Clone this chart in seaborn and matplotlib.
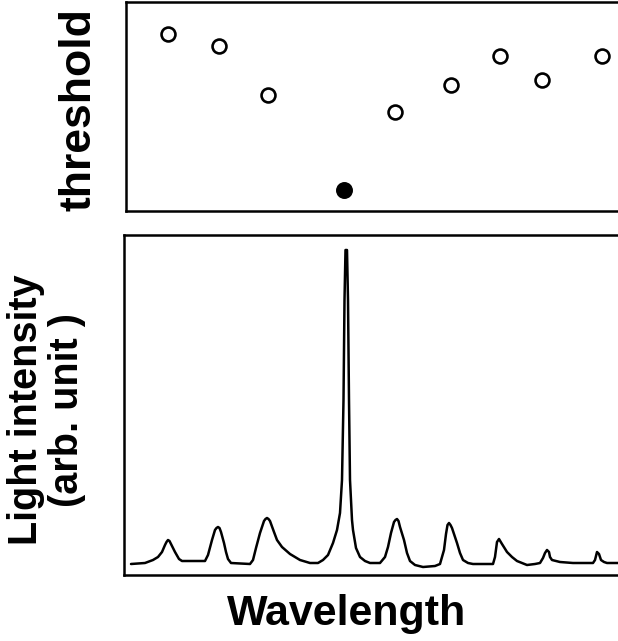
import numpy as np
import pandas as pd
import matplotlib
matplotlib.use("Agg")
import matplotlib.pyplot as plt
import seaborn as sns

# threshold per peak wavelength (arb. units)
thr_wavelength = [168, 219, 268, 344, 395, 451, 500, 542, 602]
thr_value = [177, 165, 116, 21, 99, 126, 155, 131, 155]
thr_filled = [False, False, False, True, False, False, False, False, False]

# traced emission spectrum (arb. units)
spec_wavelength = [
    131, 145, 153, 158, 162, 165, 166.5, 168, 169.5, 171, 175, 179, 182,
    205, 208, 212, 215, 216.5, 218, 219.5, 221, 224, 226, 228, 231,
    250, 253, 256, 260, 264, 265.5, 267, 268.5, 270, 274, 277,
    282, 290, 300, 310, 318, 323, 328, 333, 337, 340, 342, 343.5, 344.5, 345.5,
    347, 348, 349, 350, 352, 353, 356, 360, 365, 370, 380, 385, 388, 391, 394,
    395.5, 397, 398.5, 400, 404, 407, 410, 415, 423, 435, 440, 444, 446,
    447.5, 449, 450.5, 452, 457, 460,
    463, 468, 473, 493, 495, 497, 499, 502, 507, 512, 517, 527, 535, 540, 543,
    545, 547, 549, 550, 552, 560, 573, 593, 595, 597, 599, 601, 604, 607, 640,
]
spec_intensity = [
    11, 12, 15, 18, 23, 30, 33, 35, 34, 31, 23, 16, 14,
    14, 20, 35, 45, 47, 48, 47, 43, 32, 23, 16, 12,
    11, 15, 27, 42, 54, 56, 57, 56, 54, 43, 35,
    28, 21, 15, 12, 12, 15, 20, 32, 45, 62, 95, 175, 275, 325,
    325, 275, 175, 95, 55, 45, 27, 18, 14, 12, 12, 18, 28, 42, 53,
    55, 56, 54, 48, 35, 22, 14, 10, 8, 9, 11, 25, 41,
    50, 52, 50, 47, 32, 22,
    15, 12, 11, 11, 18, 33, 36, 31, 23, 18, 14, 10, 11, 12, 17,
    22, 25, 23, 18, 15, 13, 12, 12, 15, 23, 21, 15, 13, 12, 12,
]

thr = pd.DataFrame({"wavelength": thr_wavelength, "threshold": thr_value, "filled": thr_filled})
spec = pd.DataFrame({"wavelength": spec_wavelength, "intensity": spec_intensity})

sns.set_style("white")
plt.rcParams["font.family"] = ["Liberation Sans", "DejaVu Sans"]
plt.rcParams["font.weight"] = "bold"
plt.rcParams["text.color"] = "black"

fig = plt.figure(figsize=(6.18, 6.41), dpi=100)
W, H = 618, 641
ax_top = fig.add_axes([126 / W, (H - 211) / H, (640 - 126) / W, 209 / H])
ax_bot = fig.add_axes([124 / W, (H - 575) / H, (640 - 124) / W, 340 / H])

# top: thresholds
open_pts = thr[~thr["filled"]]
full_pts = thr[thr["filled"]]
sns.scatterplot(data=open_pts, x="wavelength", y="threshold", ax=ax_top,
                s=100, marker="o", facecolor="white", edgecolor="black", linewidth=1.9)
sns.scatterplot(data=full_pts, x="wavelength", y="threshold", ax=ax_top,
                s=125, marker="o", color="black", edgecolor="black", linewidth=1.0)
ax_top.set_xlim(126, 640)
ax_top.set_ylim(0, 209)

# bottom: spectrum
sns.lineplot(data=spec, x="wavelength", y="intensity", ax=ax_bot,
             color="black", linewidth=1.8, estimator=None, sort=False)
ax_bot.set_xlim(124, 640)
ax_bot.set_ylim(0, 340)

for ax in (ax_top, ax_bot):
    ax.set_xticks([])
    ax.set_yticks([])
    ax.set_xlabel("")
    ax.set_ylabel("")
    for sp in ax.spines.values():
        sp.set_color("black")
        sp.set_linewidth(1.8)

fig.text(79 / W, 1 - 110 / H, "threshold", rotation=90, ha="center", va="center",
         fontsize=32, fontweight="bold", color="black")
fig.text(47 / W, 1 - 410 / H, "Light intensity\n(arb. unit )", rotation=90,
         ha="center", va="center", fontsize=28.5, fontweight="bold",
         linespacing=1.1, multialignment="center", color="black")
fig.text(347 / W, 1 - 614 / H, "Wavelength", ha="center", va="center",
         fontsize=31, fontweight="bold", color="black")

fig.savefig("out.png", dpi=100)
